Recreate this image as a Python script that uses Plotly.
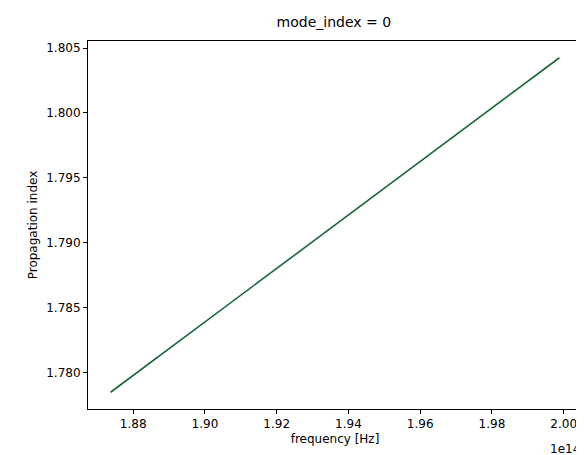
import plotly.graph_objects as go

freq = [1.8737e14, 1.9988e14]
n_eff = [1.7785, 1.80425]
xtick_vals = [1.88e14, 1.90e14, 1.92e14, 1.94e14, 1.96e14, 1.98e14, 2.00e14]
xtick_text = ["1.88", "1.90", "1.92", "1.94", "1.96", "1.98", "2.00"]
ytick_vals = [1.780, 1.785, 1.790, 1.795, 1.800, 1.805]
ytick_text = ["1.780", "1.785", "1.790", "1.795", "1.800", "1.805"]

fig = go.Figure(go.Scatter(x=freq, y=n_eff, mode="lines",
                           line=dict(color="#176638", width=1.6)))
ax = dict(showline=True, linecolor="black", linewidth=1, mirror=True,
          ticks="outside", ticklen=4, tickcolor="black", showgrid=False,
          zeroline=False, automargin=False, tickfont=dict(size=12, color="black"))
fig.update_layout(
    width=584, height=455, plot_bgcolor="white", paper_bgcolor="white",
    font=dict(family="DejaVu Sans", size=12, color="black"),
    margin=dict(l=80, r=10, t=33, b=54, autoexpand=False),
    showlegend=False,
    title=dict(text="mode_index = 0", x=0.558, xanchor="center", yref="container",
               y=1 - 14/455, yanchor="middle", font=dict(size=14)),
    xaxis=dict(ax, range=[1.8674e14, 2.0051e14], tickvals=xtick_vals, ticktext=xtick_text,
               title=dict(text="frequency [Hz]", standoff=4, font=dict(size=12))),
    yaxis=dict(ax, range=[1.77721, 1.80554], tickvals=ytick_vals, ticktext=ytick_text,
               title=dict(text="Propagation index", standoff=6, font=dict(size=12))),
    annotations=[dict(text="1e14", xref="paper", yref="paper", x=1, y=-0.085,
                      xanchor="right", yanchor="top", showarrow=False,
                      font=dict(size=12))],
)
fig.write_html("out.html")
